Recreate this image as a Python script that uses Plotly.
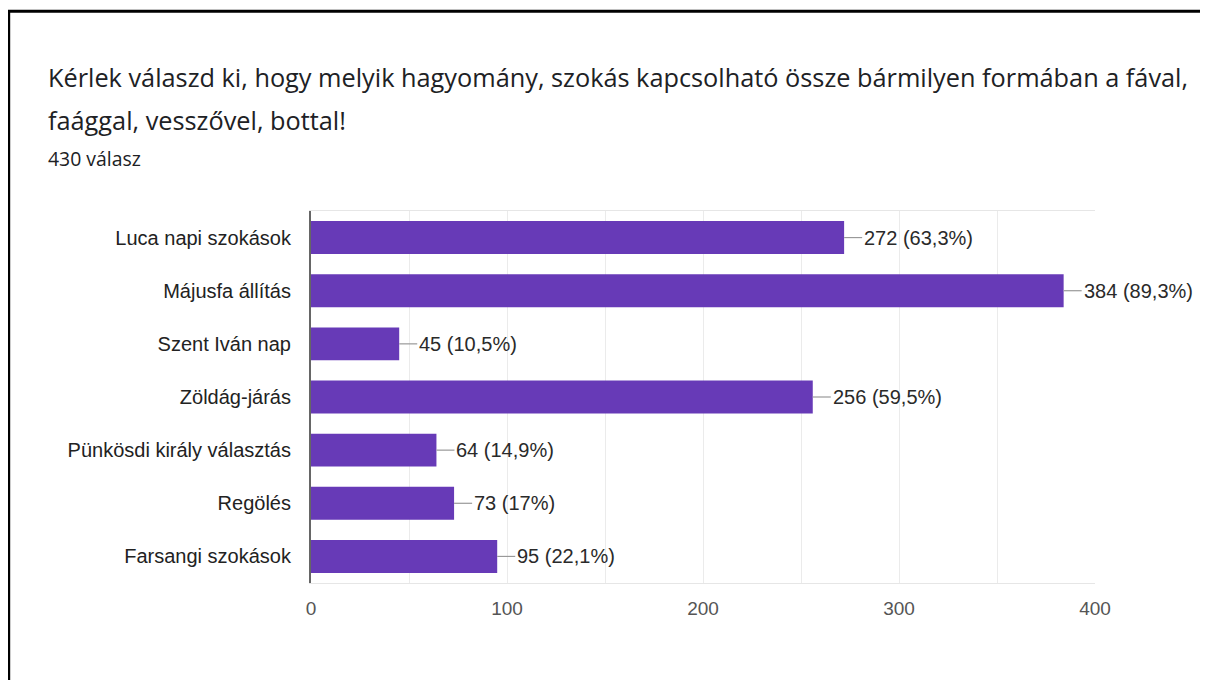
import plotly.graph_objects as go

categories = ["Luca napi szokások", "Májusfa állítás", "Szent Iván nap", "Zöldág-járás",
              "Pünkösdi király választás", "Regölés", "Farsangi szokások"]
values = [272, 384, 45, 256, 64, 73, 95]
labels = ["272 (63,3%)", "384 (89,3%)", "45 (10,5%)", "256 (59,5%)",
          "64 (14,9%)", "73 (17%)", "95 (22,1%)"]
x_ticks = [0, 100, 200, 300, 400]
title_line1 = "Kérlek válaszd ki, hogy melyik hagyomány, szokás kapcsolható össze bármilyen formában a fával,"
title_line2 = "faággal, vesszővel, bottal!"
subtitle = "430 válasz"

OFF = 8  # browser body margin
W, H = 1208 - 2 * OFF, 688 - 2 * OFF
# plot area in page pixels: x 311..1095, y 211..583
L, T = 311 - OFF, 211 - OFF
R, B = W - (1095 - OFF), H - (583 - OFF)
pw, ph = W - L - R, H - T - B
leader = 9.2  # leader line length in data units


def px(xp):
    return (xp - OFF - L) / pw


def py(yp):
    return (H - B - (yp - OFF)) / ph


fig = go.Figure()
fig.add_trace(go.Bar(
    x=values, y=categories, orientation="h",
    marker=dict(color="#673ab7", line=dict(width=0)),
    hoverinfo="skip", showlegend=False,
))
for v, c, lab in zip(values, categories, labels):
    fig.add_trace(go.Scatter(
        x=[v, v + leader], y=[c, c], mode="lines",
        line=dict(color="#999999", width=1.2), hoverinfo="skip",
        showlegend=False, cliponaxis=False,
    ))
    fig.add_annotation(x=v + leader, y=c, text=lab, showarrow=False,
                       xanchor="left", yanchor="middle", xshift=0,
                       font=dict(family="Liberation Sans, Arial", size=20, color="#2a2a2a"))

fig.add_annotation(xref="paper", yref="paper", x=px(46), y=py(77), text=title_line1,
                   showarrow=False, xanchor="left", yanchor="middle",
                   font=dict(family="Open Sans", size=25.3, color="#202124"))
fig.add_annotation(xref="paper", yref="paper", x=px(46), y=py(120), text=title_line2,
                   showarrow=False, xanchor="left", yanchor="middle",
                   font=dict(family="Open Sans", size=25.3, color="#202124"))
fig.add_annotation(xref="paper", yref="paper", x=px(46), y=py(159), text=subtitle,
                   showarrow=False, xanchor="left", yanchor="middle",
                   font=dict(family="Open Sans", size=19.4, color="#202124"))

# outer black frame (right and bottom edges lie outside the visible page)
fig.add_shape(type="rect", xref="paper", yref="paper",
              x0=px(8.7), x1=px(1240), y0=py(11.3), y1=py(720),
              line=dict(color="black", width=3), fillcolor="rgba(0,0,0,0)", layer="above")

fig.update_layout(
    width=W, height=H,
    margin=dict(l=L, r=R, t=T, b=B, autoexpand=False),
    paper_bgcolor="white", plot_bgcolor="white",
    bargap=0.38,
    font=dict(family="Liberation Sans, Arial", size=20, color="#222222"),
    xaxis=dict(range=[0, 400], tickvals=x_ticks, showgrid=True, gridcolor="#ebebeb", gridwidth=1,
               minor=dict(dtick=50, showgrid=True, gridcolor="#ebebeb", gridwidth=1),
               showline=True, linecolor="#e6e6e6", linewidth=1, mirror=True,
               zeroline=False, ticks="outside", ticklen=8, tickcolor="rgba(0,0,0,0)",
               tickfont=dict(color="#555555", size=19),
               fixedrange=True),
    yaxis=dict(autorange="reversed", showline=True, linecolor="#666666", linewidth=2,
               showgrid=False, ticks="outside", ticklen=14, tickcolor="rgba(0,0,0,0)",
               tickfont=dict(color="#222222", size=20), fixedrange=True),
)

fig.write_html("out.html")
